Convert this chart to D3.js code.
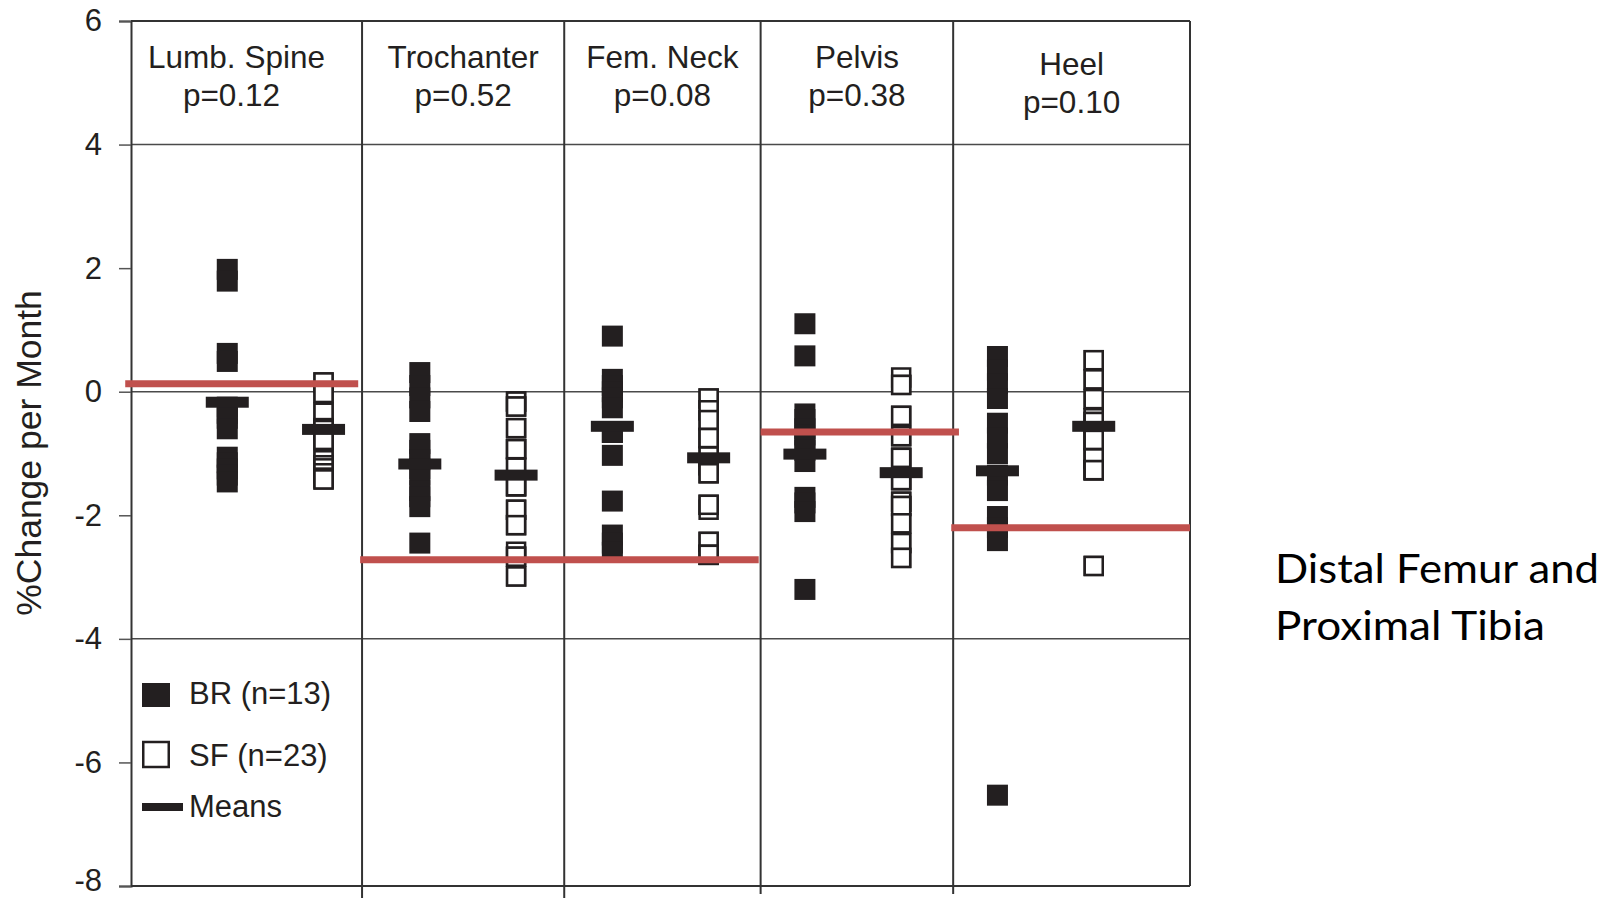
<!DOCTYPE html>
<html>
<head>
<meta charset="utf-8">
<script src="https://cdn.jsdelivr.net/npm/d3@7"></script>
<style>
  html, body { margin: 0; padding: 0; background: #ffffff; }
  svg { display: block; }
</style>
</head>
<body>
<svg id="chart" width="1611" height="898"></svg>
<script>
// ---------------- data ----------------
const sites = ["Lumb. Spine", "Trochanter", "Fem. Neck", "Pelvis", "Heel"];
const pValues = ["p=0.12", "p=0.52", "p=0.08", "p=0.38", "p=0.10"];

// BR group (n=13), % change per month, one array per site
const brLumbSpine  = [1.98, 1.79, 0.62, 0.49, -0.25, -0.35, -0.43, -0.6, -1.06, -1.15, -1.25, -1.35, -1.46];
const brTrochanter = [0.31, 0.1, -0.1, -0.32, -0.84, -0.95, -1.1, -1.25, -1.35, -1.6, -1.7, -1.86, -2.45];
const brFemNeck    = [0.9, 0.2, 0.1, 0.0, -0.1, -0.26, -0.66, -0.66, -1.03, -1.77, -2.32, -2.45, -2.6];
const brPelvis     = [1.1, 0.58, -0.36, -0.45, -0.6, -0.7, -0.85, -0.95, -1.13, -1.71, -1.8, -1.94, -3.2];
const brHeel       = [0.57, 0.35, 0.13, -0.11, -0.51, -0.75, -1.0, -1.35, -1.6, -2.02, -2.2, -2.41, -6.53];

// SF group (n=23)
const sfLumbSpine  = [0.15, 0.15, -0.02, -0.02, -0.34, -0.34, -0.59, -0.59, -0.62, -0.62, -0.78, -0.78, -0.78, -1.11, -1.11, -1.19, -1.19, -1.24, -1.32, -1.32, -1.39, -1.42, -1.42];
const sfTrochanter = [-0.16, -0.16, -0.24, -0.24, -0.59, -0.59, -0.93, -0.93, -0.93, -1.23, -1.23, -1.53, -1.53, -1.53, -1.91, -1.91, -2.16, -2.16, -2.59, -2.67, -2.67, -2.99, -2.99];
const sfFemNeck    = [-0.11, -0.11, -0.30, -0.30, -0.46, -0.46, -0.75, -0.75, -0.75, -1.05, -1.05, -1.19, -1.19, -1.32, -1.32, -1.91, -1.83, -1.83, -2.43, -2.43, -2.64, -2.64, -2.64];
const sfPelvis     = [0.23, 0.11, 0.11, -0.39, -0.39, -0.72, -0.72, -1.07, -1.07, -1.07, -1.43, -1.43, -1.43, -1.78, -1.78, -1.85, -1.85, -2.13, -2.13, -2.45, -2.45, -2.69, -2.69];
const sfHeel       = [0.51, 0.51, 0.20, 0.20, -0.12, -0.12, -0.43, -0.43, -0.49, -0.49, -0.78, -0.78, -0.78, -0.78, -1.08, -1.08, -1.08, -1.27, -1.27, -1.27, -1.27, -2.82, -2.82];

const brMeans = [-0.17, -1.17, -0.56, -1.01, -1.28];
const sfMeans = [-0.61, -1.35, -1.07, -1.31, -0.56];

const yTicks = [6, 4, 2, 0, -2, -4, -6, -8];
const gridValues = [4, 0, -4];
// panel dividers, in site-index units
const panelDividers = [0.45, 1.5, 2.52, 3.52];

// red reference lines (value, start/end in site-index units)
const refValues = [0.13, -2.72, -0.65, -2.2];
const refStart  = [-0.78, 0.44, 2.52, 3.51];
const refEnd    = [0.43, 2.51, 3.55, 4.75];

const legendLabels = ["BR (n=13)", "SF (n=23)", "Means"];
const yTitle = "%Change per Month";
const sideNote = ["Distal Femur and", "Proximal Tibia"];

// ---------------- chart ----------------
(function () {
const brValues = [brLumbSpine, brTrochanter, brFemNeck, brPelvis, brHeel];
const sfValues = [sfLumbSpine, sfTrochanter, sfFemNeck, sfPelvis, sfHeel];

const svg = d3.select("#chart");
const FONT = "'Liberation Sans', Arial, sans-serif";
const INK = "#231f20";

const pL = 131, pR = 1190, pT = 21, pB = 886;
const x = d3.scaleLinear().domain([-0.75, 4.75]).range([pL, pR]);
const y = d3.scaleLinear().domain([-8, 6]).range([pB, pT]);
const groupOffset = 0.25;

// gridlines
svg.append("g").selectAll("line").data(gridValues).join("line")
  .attr("x1", pL).attr("x2", pR)
  .attr("y1", d => y(d)).attr("y2", d => y(d))
  .attr("stroke", "#4a4a4a").attr("stroke-width", 1.5);

// frame: top, right, bottom
const frame = svg.append("g").attr("stroke", "#333").attr("stroke-width", 2).attr("fill", "none");
frame.append("line").attr("x1", pL).attr("x2", pR).attr("y1", y(6)).attr("y2", y(6));
frame.append("line").attr("x1", pR).attr("x2", pR).attr("y1", y(6)).attr("y2", y(-8));
frame.append("line").attr("x1", pL).attr("x2", pR).attr("y1", y(-8)).attr("y2", y(-8));

// panel dividers (extend slightly below frame)
svg.append("g").selectAll("line").data(panelDividers).join("line")
  .attr("x1", d => x(d)).attr("x2", d => x(d))
  .attr("y1", y(6)).attr("y2", (d, i) => y(-8) + (i < 2 ? 12 : 8))
  .attr("stroke", "#333").attr("stroke-width", 2);

// y axis
const yAxis = d3.axisLeft(y).tickValues(yTicks).tickSize(12).tickPadding(17)
  .tickFormat(d => String(d));
const gy = svg.append("g").attr("transform", `translate(${pL},0)`).call(yAxis);
gy.select(".domain").attr("stroke", "#333").attr("stroke-width", 2);
gy.selectAll(".tick line").attr("stroke", "#555").attr("stroke-width", 1.5);
gy.selectAll(".tick text").attr("font-family", FONT).attr("font-size", 31).attr("fill", INK);
gy.selectAll(".tick text").filter(d => d === -8).attr("dy", "0.14em");

// y title
svg.append("text")
  .attr("transform", `translate(41,453) rotate(-90)`)
  .attr("text-anchor", "middle")
  .attr("font-family", FONT).attr("font-size", 35.5).attr("fill", INK)
  .text(yTitle);

// panel titles
const bounds = [-0.75, ...panelDividers, 4.75];
const titles = svg.append("g").attr("font-family", FONT).attr("font-size", 31.5).attr("fill", INK)
  .attr("text-anchor", "middle");
sites.forEach((s, i) => {
  const cx = (x(bounds[i]) + x(bounds[i + 1])) / 2 - (i === 0 ? 10 : 0);
  const dy = i === 4 ? 7 : 0;
  titles.append("text").attr("x", cx).attr("y", 68 + dy).text(s);
  titles.append("text").attr("x", cx - (i === 0 ? 5 : 0)).attr("y", 106 + dy).text(pValues[i]);
});

// BR filled squares
const SQ = 21;
const brPts = brValues.flatMap((vals, i) => vals.map(v => ({ i, v })));
svg.append("g").selectAll("rect").data(brPts).join("rect")
  .attr("x", d => x(d.i - groupOffset) - SQ / 2)
  .attr("y", d => y(d.v) - SQ / 2)
  .attr("width", SQ).attr("height", SQ)
  .attr("fill", INK);

// SF open squares
const OS = 18;
const sfPts = sfValues.flatMap((vals, i) => vals.map(v => ({ i, v })));
svg.append("g").selectAll("rect").data(sfPts).join("rect")
  .attr("x", d => x(d.i + groupOffset) - OS / 2)
  .attr("y", d => y(d.v) - OS / 2)
  .attr("width", OS).attr("height", OS)
  .attr("fill", "#fff").attr("stroke", INK).attr("stroke-width", 2.5);

// mean bars
const MW = 43, MH = 11;
const meanPts = brMeans.map((v, i) => ({ xi: i - groupOffset, v }))
  .concat(sfMeans.map((v, i) => ({ xi: i + groupOffset, v })));
svg.append("g").selectAll("rect").data(meanPts).join("rect")
  .attr("x", d => x(d.xi) - MW / 2)
  .attr("y", d => y(d.v) - MH / 2)
  .attr("width", MW).attr("height", MH)
  .attr("fill", INK);

// legend
const lg = svg.append("g");
lg.append("rect").attr("x", 142).attr("y", 683).attr("width", 28).attr("height", 24).attr("fill", INK);
lg.append("rect").attr("x", 143.25).attr("y", 742).attr("width", 25.5).attr("height", 25)
  .attr("fill", "#fff").attr("stroke", INK).attr("stroke-width", 2.5);
lg.append("rect").attr("x", 142).attr("y", 803).attr("width", 41).attr("height", 8).attr("fill", INK);
lg.selectAll("text").data(legendLabels).join("text")
  .attr("x", 189).attr("y", (d, i) => [704, 766, 817][i])
  .attr("font-family", FONT).attr("font-size", 31).attr("fill", INK)
  .text(d => d);

// red reference lines
svg.append("g").selectAll("line").data(refValues).join("line")
  .attr("x1", (d, i) => x(refStart[i])).attr("x2", (d, i) => x(refEnd[i]))
  .attr("y1", d => y(d)).attr("y2", d => y(d))
  .attr("stroke", "#c0504d").attr("stroke-width", 7);

// side note
const note = svg.append("g").attr("font-family", "Lato, 'Open Sans', sans-serif")
  .attr("font-size", 41).attr("fill", "#000");
const noteWidths = [324, 270];
sideNote.forEach((t, i) => {
  note.append("text").attr("x", 1275).attr("y", 583 + i * 57)
    .attr("textLength", noteWidths[i]).attr("lengthAdjust", "spacingAndGlyphs")
    .text(t);
});
})();
</script>
</body>
</html>
